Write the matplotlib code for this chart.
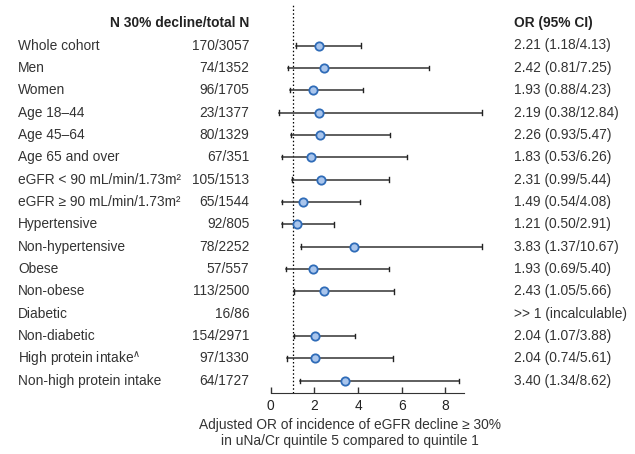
import matplotlib
matplotlib.use("Agg")
import matplotlib.pyplot as plt
import matplotlib.transforms as mtransforms
import numpy as np

plt.rcParams['font.family'] = ['Liberation Sans', 'DejaVu Sans']
plt.rcParams['font.size'] = 9.9

# subgroup rows, top to bottom
labels = ["Whole cohort", "Men", "Women", "Age 18\u201344", "Age 45\u201364",
          "Age 65 and over", "eGFR < 90 mL/min/1.73m\u00b2",
          "eGFR \u2265 90 mL/min/1.73m\u00b2", "Hypertensive", "Non-hypertensive",
          "Obese", "Non-obese", "Diabetic", "Non-diabetic",
          r"High protein intake$^{\wedge}$", "Non-high protein intake"]
counts = ["170/3057", "74/1352", "96/1705", "23/1377", "80/1329", "67/351",
          "105/1513", "65/1544", "92/805", "78/2252", "57/557", "113/2500",
          "16/86", "154/2971", "97/1330", "64/1727"]
odds = [2.21, 2.42, 1.93, 2.19, 2.26, 1.83, 2.31, 1.49, 1.21, 3.83, 1.93, 2.43,
        np.nan, 2.04, 2.04, 3.40]
ci_lo = [1.18, 0.81, 0.88, 0.38, 0.93, 0.53, 0.99, 0.54, 0.50, 1.37, 0.69, 1.05,
         np.nan, 1.07, 0.74, 1.34]
ci_hi = [4.13, 7.25, 4.23, 12.84, 5.47, 6.26, 5.44, 4.08, 2.91, 10.67, 5.40, 5.66,
         np.nan, 3.88, 5.61, 8.62]

odds = np.array(odds)
ci_lo = np.array(ci_lo)
ci_hi = np.array(ci_hi)
rows = np.arange(len(labels))

W, H = 635, 454
fig = plt.figure(figsize=(W / 100, H / 100), dpi=100)

x0_px = 270.7
px_per_unit = 21.83
xmax = 9.8
spine_px = 393.3
row0_px = 45.5
row_step = 22.35
n = len(labels)

ax = fig.add_axes([x0_px / W, 1 - spine_px / H, xmax * px_per_unit / W, spine_px / H])
ax.set_xlim(0, xmax)
ax.set_ylim((n - 1) + (spine_px - (row0_px + (n - 1) * row_step)) / row_step,
            -row0_px / row_step)

# CI bars (long ones are cut at the plot edge)
hi_drawn = np.minimum(ci_hi, 9.7)
for i in rows:
    if np.isnan(odds[i]):
        continue
    ax.plot([ci_lo[i], hi_drawn[i]], [i, i], color="#333333", lw=1.1, zorder=2)
    for xc in (ci_lo[i], hi_drawn[i]):
        ax.plot([xc, xc], [i - 0.1, i + 0.1], color="#222222", lw=1.0, zorder=2)

ax.plot(odds, rows, "o", ms=6, mfc="#a9c5ec", mec="#2f6cb8", mew=1.3, zorder=3)

ax.axvline(1, ymin=0, ymax=1 - 3 / spine_px, color="black", lw=0.9,
           linestyle=(0, (1.2, 1.8)), zorder=1)

for s in ["top", "right", "left"]:
    ax.spines[s].set_visible(False)
ax.spines["bottom"].set_bounds(0, 8.87)
ax.spines["bottom"].set_color("#333333")
ax.set_yticks([])
ax.set_xticks([0, 2, 4, 6, 8])
ax.tick_params(axis="x", direction="in", length=4, width=1, colors="#333333",
               labelcolor="#222222", labelsize=9.9, pad=4)

# table columns
tr = mtransforms.blended_transform_factory(fig.transFigure, ax.transData)
ax.text(249.5 / W, -1.0, "N 30% decline/total N", transform=tr, ha="right",
        va="center", fontweight="bold", color="#222222", clip_on=False)
ax.text(513.5 / W, -1.0, "OR (95% CI)", transform=tr, ha="left", va="center",
        fontweight="bold", color="#222222", clip_on=False)
for i in rows:
    ax.text(18.3 / W, i, labels[i], transform=tr, ha="left", va="center",
            color="#333333", clip_on=False)
    ax.text(249.5 / W, i, counts[i], transform=tr, ha="right", va="center",
            color="#333333", clip_on=False)
    if np.isnan(odds[i]):
        or_txt = ">> 1 (incalculable)"
    else:
        or_txt = f"{odds[i]:.2f} ({ci_lo[i]:.2f}/{ci_hi[i]:.2f})"
    ax.text(513.5 / W, i, or_txt, transform=tr, ha="left", va="center",
            color="#333333", clip_on=False)

fig.text(350 / W, 1 - 425 / H, "Adjusted OR of incidence of eGFR decline \u2265 30%",
         ha="center", va="center", color="#333333")
fig.text(350 / W, 1 - 441 / H, "in uNa/Cr quintile 5 compared to quintile 1",
         ha="center", va="center", color="#333333")

fig.savefig("out.png", dpi=100)
